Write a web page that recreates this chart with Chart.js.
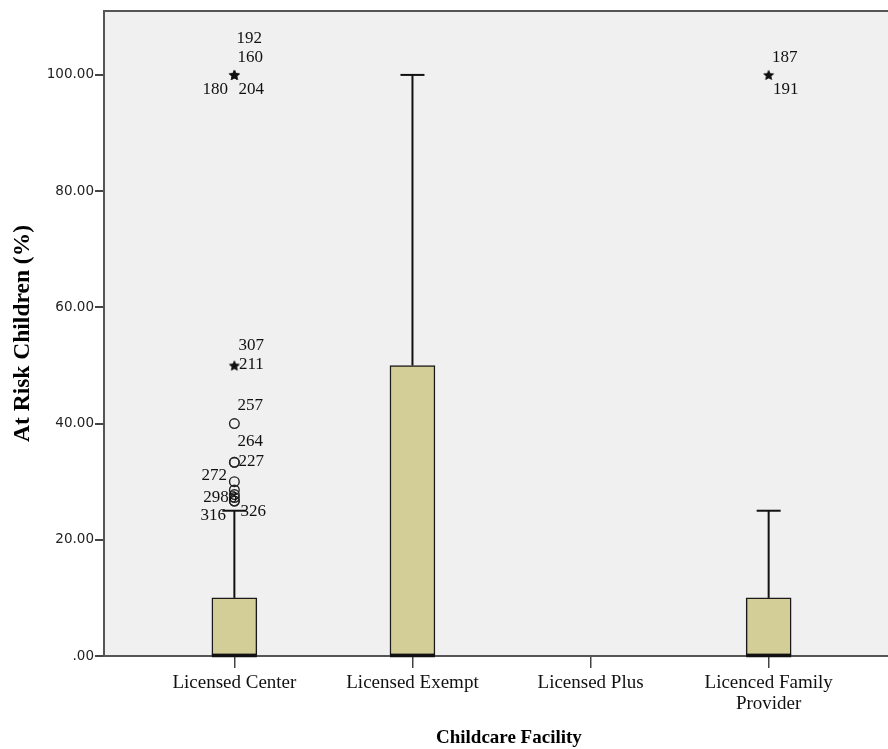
<!DOCTYPE html>
<html>
<head>
<meta charset="utf-8">
<script src="https://cdn.jsdelivr.net/npm/chart.js@4.4.1/dist/chart.umd.min.js"></script>
<style>
  html, body { margin: 0; padding: 0; background: #ffffff; overflow: hidden; }
  #wrap { width: 888px; height: 749px; overflow: hidden; position: relative; }
  canvas { display: block; }
</style>
</head>
<body>
<div id="wrap"><canvas id="c" width="920" height="749" style="width:920px;height:749px"></canvas></div>
<script>
// ---- data ----
const categories = ['Licensed Center', 'Licensed Exempt', 'Licensed Plus', 'Licenced Family Provider'];
const q1Values = [0, 0, null, 0];
const medianValues = [0, 0, null, 0];
const q3Values = [10, 50, null, 10];
const whiskerLowValues = [0, 0, null, 0];
const whiskerHighValues = [25, 100, null, 25];
const yTickValues = [0, 20, 40, 60, 80, 100];

// outlying cases: category index, value, case label
const outlierCategory = [0, 0, 0, 0, 0, 0, 0, 0, 0, 0, 0, 0, 0, 0, 0, 3, 3];
const outlierValue    = [100, 100, 100, 100, 50, 50, 40, 33.33, 33.33, 30, 28.57, 27.78, 27.27, 26.67, 26.67, 100, 100];
const outlierLabel    = ['192', '160', '180', '204', '307', '211', '257', '264', '227', '272', '', '', '2988', '316', '326', '187', '191'];

// ---- label placement (layout, px offsets from the mark) ----
const labelDx = [15, 16, -19, 17, 17, 17, 16, 16, 17, -20, 0, 0, -14, -21, 19, 16, 17];
const labelDy = [-36, -17, 15, 15, -20, -1, -18, -21, -1, -6, 0, 0, 0, 15, 11, -17, 15];

// extreme (star) vs outlier (circle): SPSS rule, beyond 3 IQR from box
function isExtreme(i) {
  const c = outlierCategory[i];
  const iqr = q3Values[c] - q1Values[c];
  return outlierValue[i] > q3Values[c] + 3 * iqr || outlierValue[i] < q1Values[c] - 3 * iqr;
}

const boxData = [];
categories.forEach((c, i) => {
  if (q1Values[i] !== null) boxData.push({ x: i + 1, y: [q1Values[i], q3Values[i]] });
});
const circleData = [], starData = [];
outlierValue.forEach((v, i) => {
  const p = { x: outlierCategory[i] + 1, y: v };
  if (isExtreme(i)) starData.push(p); else circleData.push(p);
});

// star marker image
const starImg = document.createElement('canvas');
starImg.width = 12; starImg.height = 12;
(function () {
  const g = starImg.getContext('2d');
  g.fillStyle = '#111';
  g.beginPath();
  for (let k = 0; k < 10; k++) {
    const r = k % 2 === 0 ? 5.6 : 2.4;
    const a = -Math.PI / 2 + k * Math.PI / 5;
    const px = 6 + r * Math.cos(a), py = 6.5 + r * Math.sin(a);
    if (k === 0) g.moveTo(px, py); else g.lineTo(px, py);
  }
  g.closePath();
  g.fill();
})();

const bgPlugin = {
  id: 'bg',
  beforeDraw(chart) {
    const { ctx, chartArea: a } = chart;
    ctx.save();
    ctx.fillStyle = '#ffffff';
    ctx.fillRect(0, 0, chart.width, chart.height);
    ctx.fillStyle = '#f0f0f0';
    ctx.fillRect(a.left, a.top, a.right - a.left, a.bottom - a.top);
    ctx.restore();
  },
  afterDraw(chart) {
    const { ctx, chartArea: a } = chart;
    ctx.save();
    ctx.strokeStyle = '#555555';
    ctx.lineWidth = 2;
    ctx.beginPath();
    ctx.moveTo(a.left - 1, a.top);
    ctx.lineTo(a.right, a.top);
    ctx.stroke();
    ctx.restore();
  }
};

const boxPlugin = {
  id: 'boxparts',
  afterDatasetsDraw(chart) {
    const { ctx } = chart;
    const xs = chart.scales.x, ys = chart.scales.y;
    const half = 22.5, capHalf = 12;
    ctx.save();
    ctx.strokeStyle = '#111';
    categories.forEach((c, i) => {
      if (q1Values[i] === null) return;
      const x = xs.getPixelForValue(i + 1);
      ctx.lineWidth = 2;
      const yq3 = ys.getPixelForValue(q3Values[i]);
      const yhi = ys.getPixelForValue(whiskerHighValues[i]);
      if (whiskerHighValues[i] > q3Values[i]) {
        ctx.beginPath(); ctx.moveTo(x, yq3); ctx.lineTo(x, yhi); ctx.stroke();
        ctx.beginPath(); ctx.moveTo(x - capHalf, yhi); ctx.lineTo(x + capHalf, yhi); ctx.stroke();
      }
      const yq1 = ys.getPixelForValue(q1Values[i]);
      const ylo = ys.getPixelForValue(whiskerLowValues[i]);
      if (whiskerLowValues[i] < q1Values[i]) {
        ctx.beginPath(); ctx.moveTo(x, yq1); ctx.lineTo(x, ylo); ctx.stroke();
        ctx.beginPath(); ctx.moveTo(x - capHalf, ylo); ctx.lineTo(x + capHalf, ylo); ctx.stroke();
      }
      ctx.lineWidth = 3.5;
      const ym = ys.getPixelForValue(medianValues[i]);
      ctx.beginPath(); ctx.moveTo(x - half, ym - 0.5); ctx.lineTo(x + half, ym - 0.5); ctx.stroke();
    });
    ctx.fillStyle = '#111';
    ctx.font = '17px "Liberation Serif"';
    ctx.textAlign = 'center';
    ctx.textBaseline = 'middle';
    outlierLabel.forEach((t, i) => {
      if (!t) return;
      const x = xs.getPixelForValue(outlierCategory[i] + 1) + labelDx[i];
      const y = ys.getPixelForValue(outlierValue[i]) + labelDy[i];
      ctx.fillText(t, x, y);
    });
    ctx.restore();
  }
};

new Chart(document.getElementById('c'), {
  type: 'bar',
  data: {
    datasets: [
      {
        type: 'bar',
        data: boxData,
        backgroundColor: '#d3ce97',
        borderColor: '#1a1a1a',
        borderWidth: 1.5,
        borderSkipped: false,
        barThickness: 45,
        order: 2
      },
      {
        type: 'scatter',
        data: circleData,
        pointStyle: 'circle',
        pointRadius: 4.8,
        pointBorderWidth: 1.4,
        pointBorderColor: '#222',
        pointBackgroundColor: 'rgba(0,0,0,0)',
        order: 1
      },
      {
        type: 'scatter',
        data: starData,
        pointStyle: starImg,
        order: 1
      }
    ]
  },
  options: {
    responsive: false,
    devicePixelRatio: 1,
    animation: false,
    layout: { padding: { top: 11, right: 1, left: 0, bottom: 0 } },
    plugins: { legend: { display: false }, tooltip: { enabled: false } },
    scales: {
      x: {
        type: 'linear',
        offset: false,
        min: 0.268,
        max: 4.815,
        afterBuildTicks: s => { s.ticks = categories.map((c, i) => ({ value: i + 1 })); },
        afterFit: s => { s.height = 93; },
        ticks: {
          autoSkip: false,
          maxRotation: 0,
          callback: v => {
            const t = categories[Math.round(v) - 1] || '';
            return t === 'Licenced Family Provider' ? ['Licenced Family', 'Provider'] : t;
          },
          font: { family: 'Liberation Serif', size: 19, lineHeight: 1.1 },
          color: '#111',
          padding: 5
        },
        grid: { offset: false, drawOnChartArea: false, drawTicks: true, tickLength: 12, color: '#444', lineWidth: 1.5 },
        border: { display: true, color: '#555', width: 2 },
        title: {
          display: true,
          text: 'Childcare Facility',
          font: { family: 'Liberation Serif', size: 19, weight: 'bold' },
          color: '#000',
          padding: 0
        }
      },
      y: {
        type: 'linear',
        min: 0,
        max: 111,
        afterBuildTicks: s => { s.ticks = yTickValues.map(v => ({ value: v })); },
        afterFit: s => { s.width = 104; },
        ticks: {
          callback: v => (v === 0 ? '.00' : v.toFixed(2)),
          font: { family: 'DejaVu Sans', size: 13.5 },
          color: '#222',
          padding: 1
        },
        grid: { drawOnChartArea: false, drawTicks: true, tickLength: 9, color: '#444', lineWidth: 2 },
        border: { display: true, color: '#555', width: 2 },
        title: {
          display: true,
          text: 'At Risk Children (%)',
          font: { family: 'Liberation Serif', size: 23.5, weight: 'bold' },
          color: '#000',
          padding: 9
        }
      }
    }
  },
  plugins: [bgPlugin, boxPlugin]
});
</script>
</body>
</html>
